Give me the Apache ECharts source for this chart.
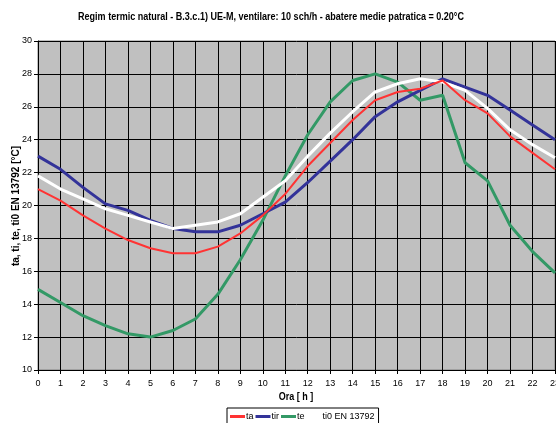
<!DOCTYPE html>
<html>
<head>
<meta charset="utf-8">
<script src="https://cdn.jsdelivr.net/npm/echarts@6/dist/echarts.min.js"></script>
<style>
  html, body { margin: 0; padding: 0; background: #fff; }
  #chart { width: 556px; height: 423px; }
</style>
</head>
<body>
<div id="chart"></div>
<script>
// ore 0..23
var hours = ['0','1','2','3','4','5','6','7','8','9','10','11','12','13','14','15','16','17','18','19','20','21','22','23'];
// temperaturi [°C]
var ta  = [21.0, 20.3, 19.4, 18.6, 17.9, 17.4, 17.1, 17.1, 17.5, 18.3, 19.4, 20.7, 22.4, 23.8, 25.2, 26.4, 26.9, 27.1, 27.6, 26.4, 25.6, 24.2, 23.2, 22.2];
var tir = [23.0, 22.2, 21.1, 20.1, 19.7, 19.1, 18.6, 18.4, 18.4, 18.8, 19.5, 20.2, 21.4, 22.7, 24.0, 25.4, 26.3, 27.0, 27.7, 27.2, 26.7, 25.8, 24.9, 24.0];
var te  = [14.9, 14.1, 13.3, 12.7, 12.2, 12.0, 12.4, 13.1, 14.6, 16.7, 19.1, 21.8, 24.3, 26.3, 27.6, 28.0, 27.5, 26.4, 26.7, 22.6, 21.5, 18.8, 17.2, 15.9];
var ti0 = [21.8, 21.0, 20.4, 19.8, 19.4, 19.0, 18.6, 18.8, 19.0, 19.5, 20.5, 21.5, 23.0, 24.4, 25.7, 26.9, 27.4, 27.7, 27.5, 27.0, 25.9, 24.6, 23.7, 22.9];

var titleText = 'Regim termic natural - B.3.c.1) UE-M, ventilare: 10 sch/h - abatere medie patratica = 0.20°C';
var yName = 'ta, ti, te, ti0 EN 13792 [°C]';
var xName = 'Ora [ h ]';

var font = '"Liberation Sans", Arial, sans-serif';

var chart = echarts.init(document.getElementById('chart'));
var option = {
  animation: false,
  graphic: [
    { type: 'text', x: 271, y: 17, scaleX: 0.82,
      style: { text: titleText, font: 'bold 11px ' + font, fill: '#000', align: 'center', verticalAlign: 'middle' } },
    { type: 'text', x: 16, y: 206, rotation: Math.PI / 2, scaleX: 1.0,
      style: { text: yName, font: 'bold 10px ' + font, fill: '#000', align: 'center', verticalAlign: 'middle' } },
    { type: 'text', x: 296, y: 397, scaleX: 0.9,
      style: { text: xName, font: 'bold 10px ' + font, fill: '#000', align: 'center', verticalAlign: 'middle' } }
  ],
  legend: {
    bottom: -6,
    left: 227,
    itemGap: 2,
    itemWidth: 15,
    itemHeight: 3,
    icon: 'rect',
    borderColor: '#000',
    borderWidth: 1,
    padding: [4, 4, 8, 3],
    textStyle: { fontFamily: font, fontSize: 9, color: '#000', padding: [0, 0, 0, -4] },
    data: ['ta', 'tir', 'te', 'ti0 EN 13792']
  },
  grid: {
    left: 38, right: 1, top: 41, bottom: 53,
    outerBoundsMode: 'none',
    containLabel: false,
    show: true,
    backgroundColor: '#c0c0c0',
    borderColor: '#808080',
    borderWidth: 1
  },
  xAxis: {
    type: 'category',
    data: hours,
    boundaryGap: false,
    axisLine: { lineStyle: { color: '#000', width: 1 } },
    axisTick: { length: 4, lineStyle: { color: '#000' } },
    axisLabel: { fontFamily: font, fontSize: 9, color: '#000', margin: 9, interval: 0 },
    splitLine: { show: true, lineStyle: { color: '#000', width: 1 } }
  },
  yAxis: {
    type: 'value',
    min: 10, max: 30, interval: 2,
    axisLine: { show: true, lineStyle: { color: '#000', width: 1 } },
    axisTick: { show: true, length: 4, lineStyle: { color: '#000' } },
    axisLabel: { fontFamily: font, fontSize: 9, color: '#000', margin: 6 },
    splitLine: { show: true, lineStyle: { color: '#000', width: 1 } }
  },
  series: [
    { name: 'te', type: 'line', data: te, symbol: 'none', z: 2,
      lineStyle: { color: '#339966', width: 3 }, itemStyle: { color: '#339966' } },
    { name: 'tir', type: 'line', data: tir, symbol: 'none', z: 3,
      lineStyle: { color: '#333399', width: 3 }, itemStyle: { color: '#333399' } },
    { name: 'ti0 EN 13792', type: 'line', data: ti0, symbol: 'none', z: 4,
      lineStyle: { color: '#ffffff', width: 3 }, itemStyle: { color: '#ffffff' } },
    { name: 'ta', type: 'line', data: ta, symbol: 'none', z: 5,
      lineStyle: { color: '#ff3333', width: 2 }, itemStyle: { color: '#ff3333' } }
  ]
};
chart.setOption(option);
</script>
</body>
</html>
